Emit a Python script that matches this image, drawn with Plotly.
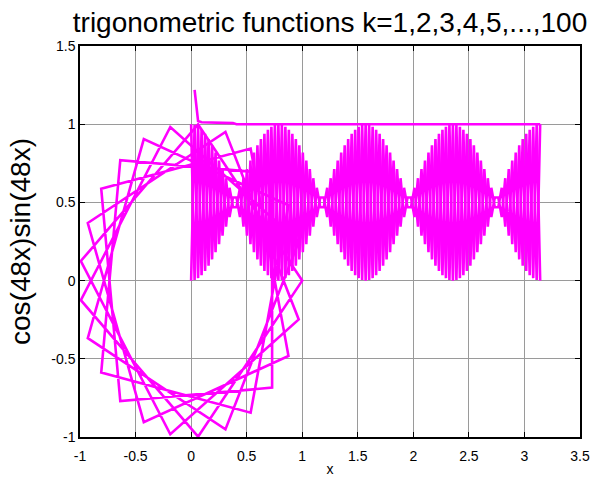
import numpy as np
import plotly.graph_objects as go

# k = 48, x sampled on [0, pi] in 100 steps
k = 48
n_samples = 101
x = np.linspace(0.0, np.pi, n_samples)

# (cos(kx), sin(kx)) vertices over one period of 25 samples (the path repeats 4 times)
loop_x_period = [1.0, 0.0628, -0.9921, -0.1874, 0.9686, 0.3090, -0.9298, -0.4258,
                 0.8763, 0.5358, -0.8090, -0.6374, 0.7290, 0.7290, -0.6374, -0.8090,
                 0.5358, 0.8763, -0.4258, -0.9298, 0.3090, 0.9686, -0.1874, -0.9921,
                 0.0628]
loop_y_period = [0.0, 0.9980, 0.1253, -0.9823, -0.2487, 0.9511, 0.3681, -0.9048,
                 -0.4818, 0.8443, 0.5878, -0.7705, -0.6845, 0.6845, 0.7705, -0.5878,
                 -0.8443, 0.4818, 0.9048, -0.3681, -0.9511, 0.2487, 0.9823, -0.1253,
                 -0.9980]

# sin^2(kx) and cos^2(kx) over one period of 25 samples
sin_sq_period = [0.0, 0.9961, 0.0157, 0.9649, 0.0618, 0.9045, 0.1355, 0.8187,
                 0.2321, 0.7129, 0.3455, 0.5937, 0.4686, 0.4686, 0.5937, 0.3455,
                 0.7129, 0.2321, 0.8187, 0.1355, 0.9045, 0.0618, 0.9649, 0.0157,
                 0.9961]
cos_sq_period = [1.0, 0.0039, 0.9843, 0.0351, 0.9382, 0.0955, 0.8645, 0.1813,
                 0.7679, 0.2871, 0.6545, 0.4063, 0.5314, 0.5314, 0.4063, 0.6545,
                 0.2871, 0.7679, 0.1813, 0.8645, 0.0955, 0.9382, 0.0351, 0.9843,
                 0.0039]

# level series (undefined at x = 0), settles at 1
level_head = [np.nan, 1.22, 1.02, 1.012, 1.011, 1.011, 1.010, 1.010, 1.009,
              1.009, 1.008, 1.008, 1.007]
level_tail_value = 1.0

x_tick_vals = [-1, -0.5, 0, 0.5, 1, 1.5, 2, 2.5, 3, 3.5]
x_tick_text = ["-1", "-0.5", "0", "0.5", "1", "1.5", "2", "2.5", "3", "3.5"]
y_tick_vals = [-1, -0.5, 0, 0.5, 1, 1.5]
y_tick_text = ["-1", "-0.5", "0", "0.5", "1", "1.5"]


def full_period(values):
    """Repeat one 25-sample period across all samples, closing at the start value."""
    reps = (n_samples - 1) // len(values)
    return list(values) * reps + [values[0]]


loop_x = full_period(loop_x_period)
loop_y = full_period(loop_y_period)
sin_sq = full_period(sin_sq_period)
cos_sq = full_period(cos_sq_period)
level_y = level_head + [level_tail_value] * (n_samples - len(level_head))

MAGENTA = "#FF00FF"
FONT = "Arial, Liberation Sans, Helvetica, sans-serif"
line_style = dict(color=MAGENTA, width=2.6)

fig = go.Figure()
fig.add_trace(go.Scatter(x=loop_x, y=loop_y, mode="lines", line=line_style))
fig.add_trace(go.Scatter(x=x, y=sin_sq, mode="lines", line=line_style))
fig.add_trace(go.Scatter(x=x, y=cos_sq, mode="lines", line=line_style))
fig.add_trace(go.Scatter(x=x, y=level_y, mode="lines", line=line_style,
                         connectgaps=False))

axis_common = dict(
    showline=True, linecolor="black", linewidth=1.5, mirror="allticks",
    ticks="inside", ticklen=5, tickwidth=1, tickcolor="black",
    showgrid=True, gridcolor="#9a9a9a", gridwidth=1, zeroline=False,
    automargin=False,
    tickfont=dict(family=FONT, size=14, color="black"),
)

fig.update_layout(
    width=604, height=477,
    margin=dict(l=80, r=24, t=46, b=40),
    paper_bgcolor="white", plot_bgcolor="white",
    showlegend=False,
    font=dict(family=FONT, color="black"),
    title=dict(text="trigonometric functions k=1,2,3,4,5,...,100",
               x=0.5, xref="paper", xanchor="center",
               y=1 - 22 / 477, yref="container", yanchor="middle",
               font=dict(family=FONT, size=28, color="black")),
    xaxis=dict(range=[-1, 3.5], tickvals=x_tick_vals, ticktext=x_tick_text,
               ticklabelstandoff=5,
               title=dict(text="x", standoff=4,
                          font=dict(family=FONT, size=14, color="black")),
               **axis_common),
    yaxis=dict(range=[-1, 1.5], tickvals=y_tick_vals, ticktext=y_tick_text,
               title=dict(text=f"cos({k}x)sin({k}x)", standoff=13,
                          font=dict(family=FONT, size=28, color="black")),
               **axis_common),
)

fig.write_html("out.html")
